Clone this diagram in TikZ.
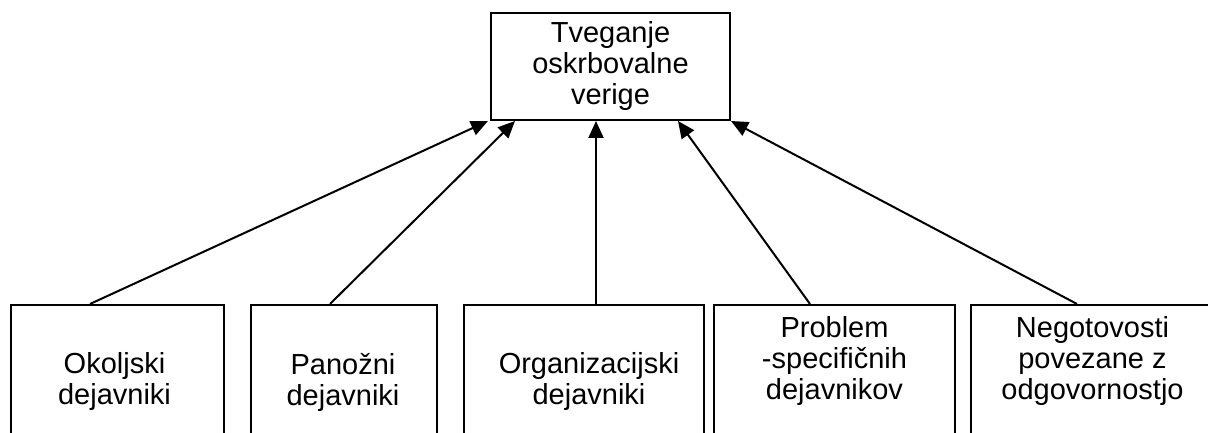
\documentclass[tikz,border=0pt]{standalone}
\usepackage{fontspec}
\setmainfont{Liberation Sans}
\usepackage{tikz}
\usetikzlibrary{calc,arrows.meta}

\begin{document}
\begin{tikzpicture}[x=1pt,y=1pt,
    okvir/.style={draw=black,line width=2pt,inner sep=0pt},
    besedilo/.style={align=center,inner sep=0pt,font=\fontsize{29}{31}\selectfont},
    puscica/.style={draw=black,line width=2pt,-{Triangle[length=17pt,width=15pt]}}]
                \useasboundingbox (0,0) rectangle (1208,433);
                \clip (0,0) rectangle (1208,433);
                \node[okvir,besedilo,minimum width=239,minimum height=107,anchor=north west] (tveganje) at (490,421) {Tveganje\\oskrbovalne\\verige};
                \node[okvir,minimum width=213,minimum height=200,anchor=north west] (okoljski) at (10,129) {};
                \node[besedilo] at ($(okoljski.north)+(-3,-78)$) {Okoljski\\dejavniki};
                \node[okvir,minimum width=186,minimum height=200,anchor=north west] (panozni) at (250,129) {};
                \node[besedilo] at ($(panozni.north)+(-1,-78)$) {Panožni\\dejavniki};
                \node[okvir,minimum width=240,minimum height=200,anchor=north west] (organiz) at (463,129) {};
                \node[besedilo] at ($(organiz.north)+(5,-78)$) {Organizacijski\\dejavniki};
                \node[okvir,minimum width=241,minimum height=200,anchor=north west] (problem) at (713,129) {};
                \node[besedilo] at ($(problem.north)+(0,-57)$) {Problem\\-specifičnih\\dejavnikov};
                \node[okvir,minimum width=245,minimum height=200,anchor=north west] (negotov) at (970,129) {};
                \node[besedilo] at ($(negotov.north)+(-1,-57)$) {Negotovosti\\povezane z\\odgovornostjo};
                \draw[puscica] ($(okoljski.north west)+(80,0)$) -- ($(tveganje.south west)+(-2,0)$);
                \draw[puscica] ($(panozni.north west)+(80,0)$) -- ($(tveganje.south west)+(25,0)$);
                \draw[puscica] ($(organiz.north west)+(133,0)$) -- ($(tveganje.south west)+(106,0)$);
                \draw[puscica] ($(problem.north west)+(97,0)$) -- ($(tveganje.south west)+(188,0)$);
                \draw[puscica] ($(negotov.north west)+(107,0)$) -- ($(tveganje.south west)+(241,0)$);
\end{tikzpicture}
\end{document}
